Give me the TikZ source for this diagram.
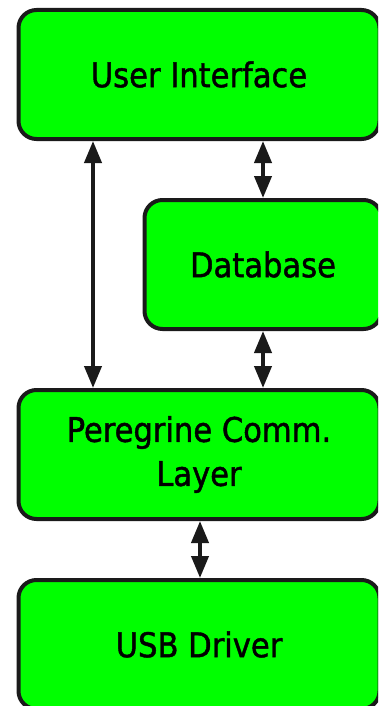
\documentclass[tikz,border=0pt]{standalone}
\usepackage{fontspec}
\setmainfont{DejaVu Sans Condensed}
\usepackage{tikz}
\usetikzlibrary{arrows.meta,positioning}
\definecolor{boxgreen}{RGB}{0,255,0}
\definecolor{edge}{RGB}{26,26,26}

\begin{document}
\begin{tikzpicture}[x=1pt, y=-1pt,
  block/.style={rectangle, rounded corners=18pt, draw=edge, fill=boxgreen,
    line width=4pt, minimum width=361pt, minimum height=129pt,
    align=center, font=\fontsize{34}{44}\selectfont\addfontfeature{FakeBold=1.3}},
  arr/.style={{Triangle[length=22pt,width=17pt]}-{Triangle[length=22pt,width=17pt]},
    line width=4pt, draw=edge},
]
\clip (0,0) rectangle (378,706);

% LAYERS
\node[block] (ui) at (199,74.5) {User Interface};
\node[block, below=57pt of ui, xshift=64pt, minimum width=237pt] (db) {Database};
\node[block, below=57pt of db, xshift=-64pt] (comm) {Peregrine Comm.\\Layer};
\node[block, below=57pt of comm] (usb) {USB Driver};

% connector columns
\coordinate (lx) at (93,0);
\coordinate (mx) at (200,0);

% ARROWS
\draw[arr] (lx |- ui.south) -- (lx |- comm.north);
\draw[arr] (ui.south -| db) -- (db.north);
\draw[arr] (db.south) -- (db.south |- comm.north);
\draw[arr] (mx |- comm.south) -- (mx |- usb.north);
\end{tikzpicture}
\end{document}
